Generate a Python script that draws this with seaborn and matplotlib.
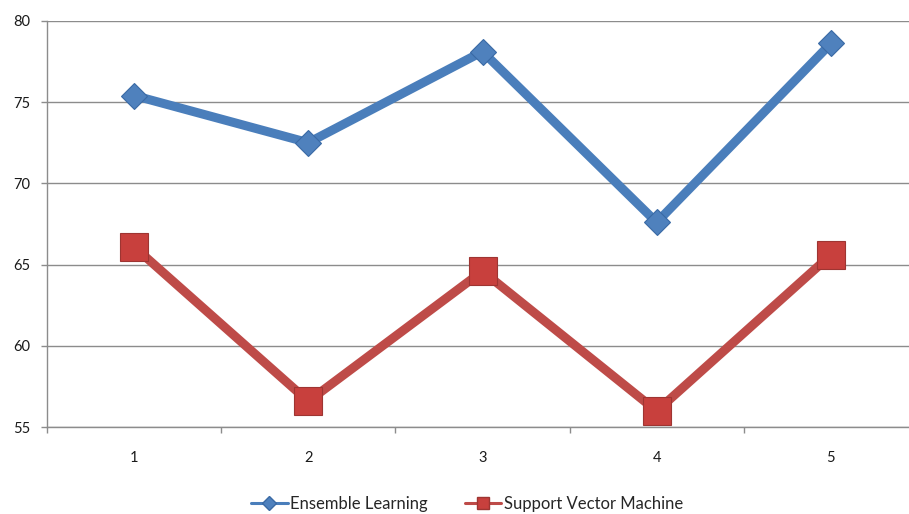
import matplotlib
matplotlib.use("Agg")
import matplotlib.pyplot as plt
from matplotlib.lines import Line2D
import seaborn as sns
import pandas as pd

runs = ["1", "2", "3", "4", "5"]
ensemble = [75.4, 72.5, 78.1, 67.6, 78.6]
svm = [66.1, 56.6, 64.6, 56.0, 65.6]
series_names = ["Ensemble Learning", "Support Vector Machine"]
y_ticks = [55, 60, 65, 70, 75, 80]

sns.set_theme(style="white")
plt.rcParams["font.family"] = ["Lato", "DejaVu Sans"]

blue_line, blue_face, blue_edge = "#4A7EBB", "#4F81BD", "#3A6AA5"
red_line, red_face, red_edge = "#BE4B48", "#C8403D", "#9E3532"

df = pd.DataFrame({"pos": list(range(len(runs))), "ens": ensemble, "svm": svm})

fig = plt.figure(figsize=(9.09, 5.14), dpi=100)
ax = fig.add_axes([47 / 909, 86.7 / 514, 871 / 909, 406.6 / 514])

sns.lineplot(data=df, x="pos", y="ens", ax=ax, color=blue_line, lw=6.5,
             marker="D", markersize=13, markerfacecolor=blue_face,
             markeredgecolor=blue_edge, markeredgewidth=0.8, zorder=3)
sns.lineplot(data=df, x="pos", y="svm", ax=ax, color=red_line, lw=6.5,
             marker="s", markersize=19.5, markerfacecolor=red_face,
             markeredgecolor=red_edge, markeredgewidth=0.8, zorder=3)

ax.set_xlim(-0.5, len(runs) - 0.5)
ax.set_ylim(y_ticks[0], y_ticks[-1])
ax.set_yticks(y_ticks)
ax.set_yticklabels([str(t) for t in y_ticks], fontsize=10.5, color="#1a1a1a")

# category boundaries carry the tick marks, centers carry the labels
ax.set_xticks([i - 0.5 for i in range(len(runs) + 1)])
ax.set_xticklabels([])
ax.set_xticks(list(range(len(runs))), minor=True)
ax.set_xticklabels(runs, minor=True, fontsize=10.5, color="#1a1a1a")
ax.tick_params(axis="x", which="major", length=4, width=1, color="#8C8C8C",
               direction="out", bottom=True)
ax.tick_params(axis="x", which="minor", length=0, pad=17)
ax.tick_params(axis="y", length=4, width=1, color="#8C8C8C", direction="out",
               left=True, pad=8)

ax.grid(axis="y", color="#8C8C8C", lw=1)
ax.grid(axis="x", visible=False)
ax.set_axisbelow(True)
for side in ["top", "right"]:
    ax.spines[side].set_visible(False)
for side in ["left", "bottom"]:
    ax.spines[side].set_color("#8C8C8C")
    ax.spines[side].set_linewidth(1)
ax.set_xlabel("")
ax.set_ylabel("")

handles = [
    Line2D([], [], color=blue_line, lw=2.2, marker="D", markersize=7,
           markerfacecolor=blue_face, markeredgecolor=blue_edge),
    Line2D([], [], color=red_line, lw=2.2, marker="s", markersize=9,
           markerfacecolor=red_face, markeredgecolor=red_edge),
]
fig.legend(handles, series_names, loc="center", bbox_to_anchor=(467 / 909, 10 / 514),
           ncol=2, frameon=False, fontsize=12, handlelength=2.2,
           handletextpad=0.15, columnspacing=2.2)

fig.savefig("out.png", dpi=100)
